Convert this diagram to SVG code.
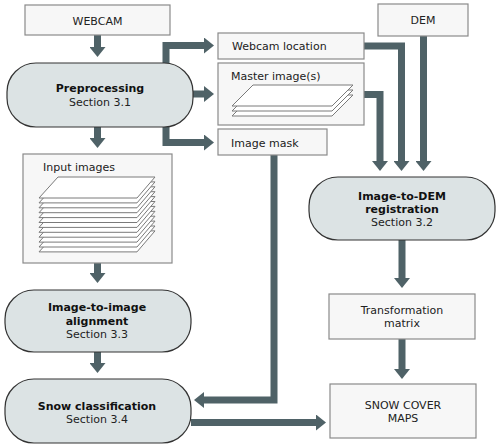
<svg xmlns="http://www.w3.org/2000/svg" xmlns:xlink="http://www.w3.org/1999/xlink" width="500" height="448" viewBox="0 0 500 448">
<style>
  .box { fill: #f7f7f7; stroke: #8a8a8a; stroke-width: 1.2; }
  .proc { fill: #dce3e4; stroke: #333; stroke-width: 1.2; }
  .t { font-family: "DejaVu Sans", Verdana, sans-serif; font-size: 11px; fill: #222; }
  .b { font-weight: bold; fill: #111; }
  .m { text-anchor: middle; }
  .sheet { fill: #fff; stroke: #7a7a7a; stroke-width: 1; }
  .conn { fill: none; stroke: #4f6267; stroke-width: 7; stroke-linejoin: miter; marker-end: url(#ah); }
</style>
<defs>
  <marker id="ah" viewBox="0 0 10 16" refX="0" refY="8" markerWidth="10" markerHeight="16" markerUnits="userSpaceOnUse" orient="auto">
    <path d="M0,0 L10,8 L0,16 z" fill="#4f6267"/>
  </marker>
  <polygon id="sheetA" class="sheet" points="58,177 155,177 137,198 39,198"/>
  <polygon id="sheetB" class="sheet" points="253,85 353,85 332,106 232,106"/>
</defs>

<g id="connectors">
  <path class="conn" d="M97.5,35 V47"/>
  <path class="conn" d="M166,63 V45.5 H204"/>
  <path class="conn" d="M193,94 H204"/>
  <path class="conn" d="M166,127 V142.5 H204"/>
  <path class="conn" d="M97.5,127 V138"/>
  <path class="conn" d="M97.5,263 V273"/>
  <path class="conn" d="M97.5,352 V363"/>
  <path class="conn" d="M364,46 H401.5 V161"/>
  <path class="conn" d="M364,94.5 H380 V161"/>
  <path class="conn" d="M423.5,36 V161"/>
  <path class="conn" d="M402,240 V278"/>
  <path class="conn" d="M402,339 V369"/>
  <path class="conn" d="M274,155 V400 H204"/>
  <path class="conn" d="M191,422.5 H316"/>
</g>

<g id="webcam">
  <rect class="box" x="25" y="5" width="145" height="30"/>
  <text class="t m" x="97.5" y="25">WEBCAM</text>
</g>

<g id="dem">
  <rect class="box" x="378" y="4" width="90" height="32"/>
  <text class="t m" x="423" y="24">DEM</text>
</g>

<g id="preprocessing">
  <rect class="proc" x="7" y="63" width="186" height="64" rx="29" ry="29"/>
  <text class="t b m" x="100" y="92">Preprocessing</text>
  <text class="t m" x="100" y="106">Section 3.1</text>
</g>

<g id="webcam-location">
  <rect class="box" x="218" y="33" width="146" height="26"/>
  <text class="t" x="232" y="50">Webcam location</text>
</g>

<g id="master-images">
  <rect class="box" x="218" y="63" width="146" height="62"/>
  <text class="t" x="231" y="80">Master image(s)</text>
  <use xlink:href="#sheetB" transform="translate(0,10)"/>
  <use xlink:href="#sheetB" transform="translate(0,5)"/>
  <use xlink:href="#sheetB"/>
</g>

<g id="image-mask">
  <rect class="box" x="218" y="129" width="109" height="26"/>
  <text class="t" x="231" y="147">Image mask</text>
</g>

<g id="input-images">
  <rect class="box" x="23" y="154" width="149" height="109"/>
  <text class="t" x="43" y="171">Input images</text>
  <use xlink:href="#sheetA" transform="translate(0,53.9)"/>
  <use xlink:href="#sheetA" transform="translate(0,49)"/>
  <use xlink:href="#sheetA" transform="translate(0,44.1)"/>
  <use xlink:href="#sheetA" transform="translate(0,39.2)"/>
  <use xlink:href="#sheetA" transform="translate(0,34.3)"/>
  <use xlink:href="#sheetA" transform="translate(0,29.4)"/>
  <use xlink:href="#sheetA" transform="translate(0,24.5)"/>
  <use xlink:href="#sheetA" transform="translate(0,19.6)"/>
  <use xlink:href="#sheetA" transform="translate(0,14.7)"/>
  <use xlink:href="#sheetA" transform="translate(0,9.8)"/>
  <use xlink:href="#sheetA" transform="translate(0,4.9)"/>
  <use xlink:href="#sheetA"/>
</g>

<g id="image-to-dem">
  <rect class="proc" x="309" y="177" width="186" height="63" rx="29" ry="29"/>
  <text class="t b m" x="402" y="200">Image-to-DEM</text>
  <text class="t b m" x="402" y="213">registration</text>
  <text class="t m" x="402" y="226">Section 3.2</text>
</g>

<g id="transformation-matrix">
  <rect class="box" x="329" y="294" width="146" height="45"/>
  <text class="t m" x="402" y="314">Transformation</text>
  <text class="t m" x="402" y="327">matrix</text>
</g>

<g id="image-to-image">
  <rect class="proc" x="5" y="290" width="186" height="62" rx="29" ry="29"/>
  <text class="t b m" x="97" y="311">Image-to-image</text>
  <text class="t b m" x="97" y="325">alignment</text>
  <text class="t m" x="97" y="338">Section 3.3</text>
</g>

<g id="snow-classification">
  <rect class="proc" x="5" y="379" width="186" height="64" rx="29" ry="29"/>
  <text class="t b m" x="97" y="410">Snow classification</text>
  <text class="t m" x="97" y="423">Section 3.4</text>
</g>

<g id="snow-cover-maps">
  <rect class="box" x="330" y="384" width="146" height="54"/>
  <text class="t m" x="403" y="409">SNOW COVER</text>
  <text class="t m" x="403" y="422">MAPS</text>
</g>
</svg>
